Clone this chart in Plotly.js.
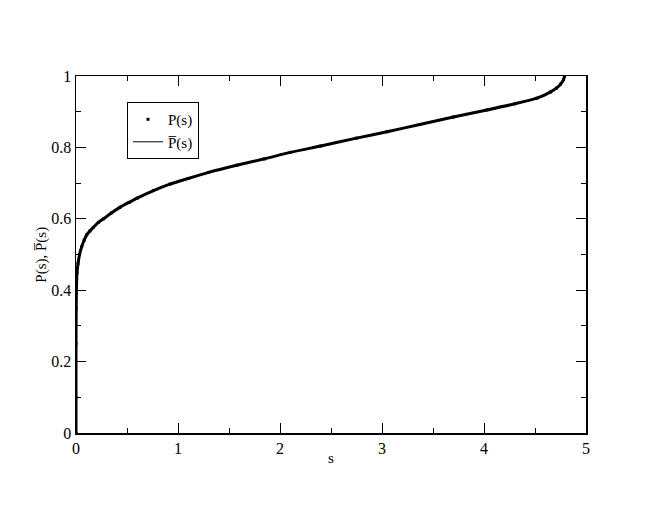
<!DOCTYPE html>
<html>
<head>
<meta charset="utf-8">
<script src="https://cdn.plot.ly/plotly-3.0.1.min.js"></script>
<style>body{margin:0;padding:0;background:#fff}</style>
</head>
<body>
<div id="chart" style="width:660px;height:510px"></div>
<script>
// s values (x) and probabilities
var sValues = [0, 0, 0, 0.002, 0.005, 0.01, 0.02, 0.035, 0.056, 0.08, 0.105, 0.137, 0.17, 0.22, 0.27, 0.35, 0.43, 0.52, 0.6, 0.76, 0.92, 1.1, 1.3, 1.575, 1.85, 2.1, 2.4, 2.75, 3.05, 3.37, 3.7, 4.03, 4.3, 4.52, 4.65, 4.71, 4.75, 4.78, 4.79];
var pValues = [0, 0.1, 0.25, 0.35, 0.41, 0.45, 0.475, 0.50, 0.522, 0.54, 0.555, 0.566, 0.576, 0.59, 0.60, 0.617, 0.632, 0.646, 0.658, 0.679, 0.697, 0.713, 0.73, 0.75, 0.768, 0.786, 0.804, 0.826, 0.844, 0.864, 0.885, 0.905, 0.922, 0.938, 0.955, 0.966, 0.977, 0.99, 1.0];
var pBarValues = pValues.slice();
var xTicks = [0, 1, 2, 3, 4, 5];
var yTicks = [0, 0.2, 0.4, 0.6, 0.8, 1];
var yTickText = ['0', '0.2', '0.4', '0.6', '0.8', '1'];
var xTitle = 's';
var yTitle = 'P(s), P\u0305(s)';

var serif = "'Liberation Serif', 'Times New Roman', serif";
var data = [
  {x: sValues, y: pBarValues, mode: 'lines', line: {color: '#000', width: 3, shape: 'spline', smoothing: 0.6}, showlegend: false, hoverinfo: 'skip'},
  {x: sValues, y: pValues, mode: 'markers', name: 'P(s)', marker: {symbol: 'square', size: 3, color: '#000'}},
  {x: sValues, y: pBarValues, mode: 'lines', name: 'P\u0305(s)', line: {color: '#000', width: 1, shape: 'spline', smoothing: 0.6}}
];
var axisCommon = {
  showgrid: false, zeroline: false, showline: true, linecolor: '#000', linewidth: 1.5,
  mirror: 'allticks', ticks: 'inside', ticklen: 10, tickwidth: 1, tickcolor: '#000',
  tickfont: {family: serif, size: 16, color: '#000'}
};
var layout = {
  width: 660, height: 510,
  margin: {l: 76, r: 74, t: 76, b: 77},
  paper_bgcolor: '#fff', plot_bgcolor: '#fff',
  font: {family: serif, color: '#000'},
  xaxis: Object.assign({}, axisCommon, {
    range: [0, 5], tickvals: xTicks, ticktext: xTicks.map(String),
    minor: {dtick: 0.5, ticks: 'inside', ticklen: 5, tickcolor: '#000', tickwidth: 1}
  }),
  yaxis: Object.assign({}, axisCommon, {
    range: [0, 1], tickvals: yTicks, ticktext: yTickText,
    minor: {dtick: 0.1, ticks: 'inside', ticklen: 5, tickcolor: '#000', tickwidth: 1}
  }),
  annotations: [
    {text: xTitle, xref: 'paper', yref: 'paper', x: 0.5, y: -0.07, xanchor: 'center', yanchor: 'middle', showarrow: false, font: {family: serif, size: 15, color: '#000'}},
    {text: yTitle, xref: 'paper', yref: 'paper', x: -0.0673, y: 0.4986, xanchor: 'center', yanchor: 'middle', textangle: -90, showarrow: false, font: {family: serif, size: 15, color: '#000'}}
  ],
  legend: {
    x: 0.1, y: 0.927, xanchor: 'left', yanchor: 'top',
    bgcolor: '#fff', bordercolor: '#000', borderwidth: 1,
    font: {family: serif, size: 15, color: '#000'},
    itemwidth: 30, tracegroupgap: 0
  }
};
Plotly.newPlot('chart', data, layout, {displayModeBar: false, staticPlot: true});
</script>
</body>
</html>
